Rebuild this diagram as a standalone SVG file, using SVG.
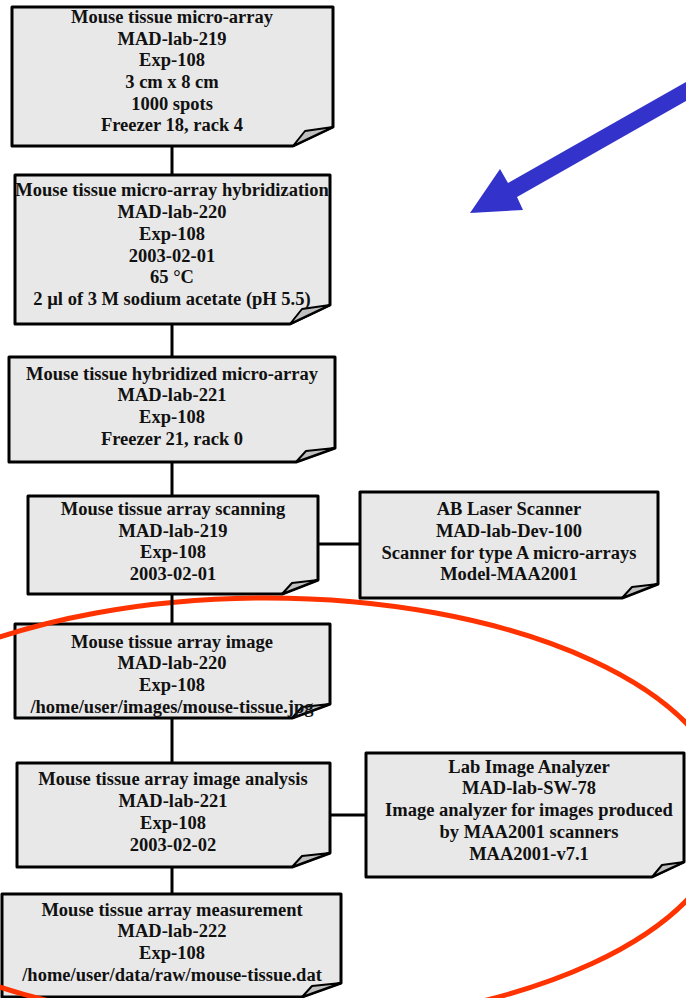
<svg xmlns="http://www.w3.org/2000/svg" width="686" height="998" viewBox="0 0 686 998">
<style>
.box{fill:#e8e8e8;stroke:#000;stroke-width:3;stroke-linejoin:round}
.fold{fill:#c0c0c0;stroke:#000;stroke-width:2;stroke-linejoin:round}
.t{font-family:"Liberation Serif","Times New Roman",serif;font-weight:bold;font-size:18.5px;fill:#111;text-anchor:middle}
.c{stroke:#000;stroke-width:3;fill:none}
</style>
<rect width="686" height="998" fill="#fff"/>
<g id="n1">
<polygon class="box" points="12,7 333,7 333,127 293,146 12,146"/>
<polygon class="fold" points="293,146 305,131 333,127"/>
<text class="t" x="172" y="23">Mouse tissue micro-array</text>
<text class="t" x="172" y="45">MAD-lab-219</text>
<text class="t" x="172" y="66">Exp-108</text>
<text class="t" x="172" y="88">3 cm x 8 cm</text>
<text class="t" x="172" y="110">1000 spots</text>
<text class="t" x="172" y="131">Freezer 18, rack 4</text>
</g>
<g id="n2">
<polygon class="box" points="15,175 330,175 330,305 290,324 15,324"/>
<polygon class="fold" points="290,324 302,309 330,305"/>
<text class="t" x="172" y="196">Mouse tissue micro-array hybridization</text>
<text class="t" x="172" y="218">MAD-lab-220</text>
<text class="t" x="172" y="240">Exp-108</text>
<text class="t" x="172" y="262">2003-02-01</text>
<text class="t" x="172" y="283">65 °C</text>
<text class="t" x="172" y="305">2 µl of 3 M sodium acetate (pH 5.5)</text>
</g>
<g id="n3">
<polygon class="box" points="9,357 335,357 335,448 296,462 9,462"/>
<polygon class="fold" points="296,462 306,451 335,448"/>
<text class="t" x="172" y="380">Mouse tissue hybridized micro-array</text>
<text class="t" x="172" y="401">MAD-lab-221</text>
<text class="t" x="172" y="423">Exp-108</text>
<text class="t" x="172" y="445">Freezer 21, rack 0</text>
</g>
<g id="n4">
<polygon class="box" points="28,496 318,496 318,580 282,594 28,594"/>
<polygon class="fold" points="282,594 292,583 318,580"/>
<text class="t" x="173" y="515">Mouse tissue array scanning</text>
<text class="t" x="173" y="537">MAD-lab-219</text>
<text class="t" x="173" y="558">Exp-108</text>
<text class="t" x="173" y="580">2003-02-01</text>
</g>
<g id="n5">
<polygon class="box" points="360,492 658,492 658,584 622,598 360,598"/>
<polygon class="fold" points="622,598 632,587 658,584"/>
<text class="t" x="509" y="515">AB Laser Scanner</text>
<text class="t" x="509" y="537">MAD-lab-Dev-100</text>
<text class="t" x="509" y="559">Scanner for type A micro-arrays</text>
<text class="t" x="509" y="580">Model-MAA2001</text>
</g>
<g id="n6">
<polygon class="box" points="15,624 330,624 330,704 292,718 15,718"/>
<polygon class="fold" points="292,718 302,707 330,704"/>
<text class="t" x="172" y="648">Mouse tissue array image</text>
<text class="t" x="172" y="669">MAD-lab-220</text>
<text class="t" x="172" y="691">Exp-108</text>
<text class="t" x="172" y="713">/home/user/images/mouse-tissue.jpg</text>
</g>
<g id="n7">
<polygon class="box" points="17,763 330,763 330,853 292,867 17,867"/>
<polygon class="fold" points="292,867 302,856 330,853"/>
<text class="t" x="173" y="785">Mouse tissue array image analysis</text>
<text class="t" x="173" y="807">MAD-lab-221</text>
<text class="t" x="173" y="829">Exp-108</text>
<text class="t" x="173" y="851">2003-02-02</text>
</g>
<g id="n8">
<polygon class="box" points="366,753 684,753 684,862 652,877 366,877"/>
<polygon class="fold" points="652,877 662,865 684,862"/>
<text class="t" x="529" y="773">Lab Image Analyzer</text>
<text class="t" x="529" y="794">MAD-lab-SW-78</text>
<text class="t" x="529" y="816">Image analyzer for images produced</text>
<text class="t" x="529" y="838">by MAA2001 scanners</text>
<text class="t" x="529" y="860">MAA2001-v7.1</text>
</g>
<g id="n9">
<polygon class="box" points="2,894 341,894 341,983 302,997 2,997"/>
<polygon class="fold" points="302,997 312,986 341,983"/>
<text class="t" x="172" y="916">Mouse tissue array measurement</text>
<text class="t" x="172" y="937">MAD-lab-222</text>
<text class="t" x="172" y="959">Exp-108</text>
<text class="t" x="172" y="981">/home/user/data/raw/mouse-tissue.dat</text>
</g>
<g id="highlight">
<ellipse cx="266" cy="812" rx="462" ry="214" fill="none" stroke="#ff3300" stroke-width="5"/>
</g>
<g id="connectors">
<line class="c" x1="172" y1="146" x2="172" y2="175"/>
<line class="c" x1="172" y1="324" x2="172" y2="357"/>
<line class="c" x1="172" y1="462" x2="172" y2="496"/>
<line class="c" x1="172" y1="594" x2="172" y2="624"/>
<line class="c" x1="172" y1="718" x2="172" y2="763"/>
<line class="c" x1="172" y1="867" x2="172" y2="894"/>
<line class="c" x1="318" y1="544" x2="360" y2="544"/>
<line class="c" x1="330" y1="815" x2="366" y2="815"/>
</g>
<g id="pointer">
<polygon fill="#3333cc" points="470,213 500,169 508,183 700,74 700,93 517,197 523,210"/>
</g>
</svg>
